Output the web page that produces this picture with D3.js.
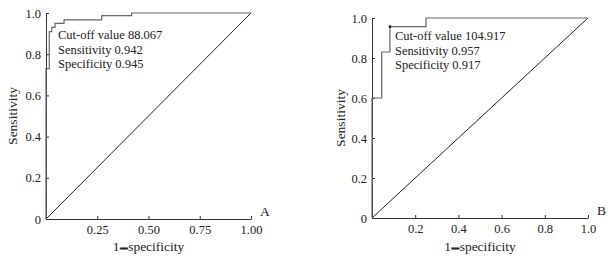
<!DOCTYPE html>
<html>
<head>
<meta charset="utf-8">
<script src="https://cdn.jsdelivr.net/npm/d3@7"></script>
<style>
  body { margin: 0; background: #fff; }
  svg { font-family: "Liberation Serif", "Times New Roman", serif; }
</style>
</head>
<body>
<svg id="chart" width="615" height="258"></svg>
<script>
// ROC points (1 - specificity, sensitivity)
const fprA = [0, 0, 0.016, 0.028, 0.044, 0.088, 0.272, 0.418, 1];
const tprA = [0, 0.73, 0.91, 0.93, 0.95, 0.967, 0.987, 1, 1];
const fprB = [0, 0, 0.045, 0.083, 0.25, 1];
const tprB = [0, 0.6, 0.83, 0.957, 1, 1];

const xTicksA = [0.25, 0.5, 0.75, 1];
const xTicksB = [0.2, 0.4, 0.6, 0.8, 1];
const yTicks = [0, 0.2, 0.4, 0.6, 0.8, 1];

const notesA = ["Cut-off value 88.067", "Sensitivity 0.942", "Specificity 0.945"];
const notesB = ["Cut-off value 104.917", "Sensitivity 0.957", "Specificity 0.917"];
const cutB = [0.083, 0.957];

const svg = d3.select("#chart");

function panel(opt) {
  const x = d3.scaleLinear().domain([0, 1]).range([opt.left, opt.right]);
  const y = d3.scaleLinear().domain([0, 1]).range([opt.bottom, opt.top]);
  const g = svg.append("g");

  const yAxis = d3.axisLeft(y).tickValues(yTicks).tickSizeInner(-3).tickSizeOuter(0).tickPadding(5)
    .tickFormat(d => d === 0 ? "0" : d3.format(".1f")(d));
  const xAxis = d3.axisBottom(x).tickValues(opt.xTicks).tickSizeInner(-3).tickSizeOuter(0).tickPadding(6)
    .tickFormat(d3.format(opt.xFmt));

  g.append("g").attr("transform", "translate(" + opt.left + ",0)").call(yAxis);
  g.append("g").attr("transform", "translate(0," + opt.bottom + ")").call(xAxis);
  g.selectAll(".domain, .tick line").attr("stroke", "#333");
  g.selectAll(".tick text").attr("fill", "#222").style("font-size", "12.5px")
    .style("font-family", "Liberation Serif, serif");

  // reference diagonal
  g.append("line")
    .attr("x1", x(0)).attr("y1", y(0)).attr("x2", x(1)).attr("y2", y(1))
    .attr("stroke", "#222").attr("stroke-width", 1);

  const pts = opt.fpr.map((f, i) => [f, opt.tpr[i]]);
  g.append("path")
    .datum(pts)
    .attr("fill", "none")
    .attr("stroke", "#666")
    .attr("stroke-width", 1.2)
    .attr("d", d3.line().x(d => x(d[0])).y(d => y(d[1])).curve(d3.curveStepAfter));

  if (opt.cut) {
    g.append("rect")
      .attr("x", x(opt.cut[0]) - 1.2).attr("y", y(opt.cut[1]) - 1.2)
      .attr("width", 2.4).attr("height", 2.4).attr("fill", "#111");
  }

  g.selectAll(".note")
    .data(opt.notes)
    .enter().append("text")
    .attr("x", opt.noteX)
    .attr("y", (d, i) => opt.noteY + i * 14.5)
    .attr("fill", "#222")
    .style("font-size", "12.5px")
    .text(d => d);

  g.append("text")
    .attr("transform", "translate(" + opt.yLabelX + "," + (opt.top + opt.bottom) / 2 + ") rotate(-90)")
    .attr("text-anchor", "middle")
    .attr("fill", "#222")
    .style("font-size", "13.5px")
    .text("Sensitivity");

  const xl = g.append("text")
    .attr("x", (opt.left + opt.right) / 2)
    .attr("y", 251)
    .attr("text-anchor", "middle")
    .attr("fill", "#222")
    .style("font-size", "13.5px");
  xl.append("tspan").text("1");
  xl.append("tspan").attr("font-weight", "bold").attr("stroke", "#222").attr("stroke-width", 1.1)
    .attr("dx", 1).text("–");
  xl.append("tspan").attr("dx", 1).text("specificity");

  g.append("text")
    .attr("x", opt.right + 9)
    .attr("y", opt.bottom - 3)
    .attr("fill", "#222")
    .style("font-size", "13.5px")
    .text(opt.letter);
}

panel({ left: 46, right: 251, top: 13, bottom: 219, fpr: fprA, tpr: tprA, xTicks: xTicksA, xFmt: ".2f",
  notes: notesA, noteX: 58, noteY: 39, yLabelX: 17, letter: "A" });
panel({ left: 372, right: 588, top: 18, bottom: 218, fpr: fprB, tpr: tprB, xTicks: xTicksB, xFmt: ".1f",
  notes: notesB, noteX: 395, noteY: 40, yLabelX: 345, letter: "B", cut: cutB });
</script>
</body>
</html>
